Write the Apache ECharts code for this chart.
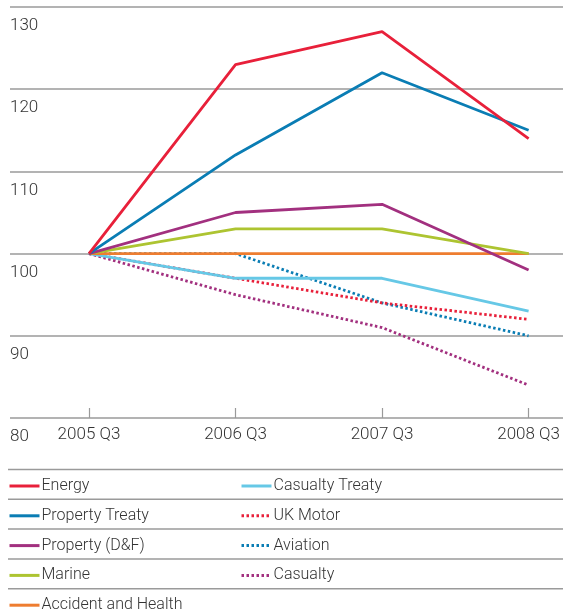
<!DOCTYPE html>
<html><head><meta charset="utf-8">
<script src="https://cdn.jsdelivr.net/npm/echarts@6/dist/echarts.min.js"></script>
<style>html,body{margin:0;padding:0;background:#fff}#c{width:563px;height:615px}</style>
</head><body><div id="c"></div>
<script>
const categories = ['2005 Q3', '2006 Q3', '2007 Q3', '2008 Q3'];
const yMin = 80, yMax = 130, yStep = 10;
const energy = [100, 123, 127, 114];
const propertyTreaty = [100, 112, 122, 115];
const propertyDF = [100, 105, 106, 98];
const marine = [100, 103, 103, 100];
const accidentHealth = [100, 100, 100, 100];
const casualtyTreaty = [100, 97, 97, 93];
const ukMotor = [100, 97, 94, 92];
const aviation = [100, 100, 94, 90];
const casualty = [100, 95, 91, 84];

const seriesDefs = [
  ['Energy', energy, '#e8203a', 'solid'],
  ['Property Treaty', propertyTreaty, '#0a7db4', 'solid'],
  ['Property (D&F)', propertyDF, '#a2307f', 'solid'],
  ['Marine', marine, '#adc431', 'solid'],
  ['Accident and Health', accidentHealth, '#ee7d30', 'solid'],
  ['Casualty Treaty', casualtyTreaty, '#66c8e6', 'solid'],
  ['UK Motor', ukMotor, '#e8203a', [2.5, 2.5]],
  ['Aviation', aviation, '#0a7db4', [2.5, 2.5]],
  ['Casualty', casualty, '#a2307f', [2.5, 2.5]]
];

const FONT = 'Roboto';
const TXT = '#333333';
const GRID = '#9a9a9a';

const chart = echarts.init(document.getElementById('c'), null, {renderer: 'canvas'});

const sepLines = [];
for (let i = 0; i < 5; i++) {
  const y = 469.5 + 29.8 * i;
  sepLines.push({type: 'line', shape: {x1: 8, y1: y, x2: 563, y2: y}, style: {stroke: GRID, lineWidth: 1.5}, silent: true});
}

const legendCommon = {
  orient: 'vertical', padding: 0, itemWidth: 30, itemHeight: 14, itemGap: 13.8,
  itemStyle: {opacity: 0},
  lineStyle: {width: 3},
  textStyle: {fontFamily: FONT, fontSize: 16, fontWeight: 300, color: TXT, padding: [0, 0, 0, -3]},
  top: 478
};

chart.setOption({
  animation: false,
  backgroundColor: '#fff',
  grid: [
    {left: 10, right: 0, top: 7, bottom: 197},
    {left: 89, right: 31, top: 7, bottom: 197}
  ],
  xAxis: [
    {gridIndex: 0, type: 'value', show: false, min: 0, max: 1},
    {gridIndex: 1, type: 'category', data: categories, boundaryGap: false,
     axisLine: {show: false},
     axisTick: {show: true, inside: true, length: 10, alignWithLabel: true, lineStyle: {color: GRID, width: 1.2}},
     axisLabel: {margin: 8, fontFamily: FONT, fontSize: 17, fontWeight: 300, color: TXT},
     splitLine: {show: false}}
  ],
  yAxis: [
    {gridIndex: 0, type: 'value', min: yMin, max: yMax, interval: yStep,
     axisLine: {show: false}, axisTick: {show: false},
     splitLine: {show: true, lineStyle: {color: GRID, width: 1.5}},
     axisLabel: {inside: true, margin: 0, verticalAlign: 'top', lineHeight: 38,
       fontFamily: FONT, fontSize: 17, fontWeight: 300, color: TXT}},
    {gridIndex: 1, type: 'value', min: yMin, max: yMax, interval: yStep, show: false,
     splitLine: {show: false}}
  ],
  legend: [
    Object.assign({}, legendCommon, {left: 8, data: seriesDefs.slice(0, 5).map(d => d[0])}),
    Object.assign({}, legendCommon, {left: 240, data: seriesDefs.slice(5).map(d => d[0])})
  ],
  graphic: sepLines,
  series: seriesDefs.map((d, i) => ({
    name: d[0], type: 'line', data: d[1], xAxisIndex: 1, yAxisIndex: 1,
    symbol: 'none', showSymbol: false, color: d[2], z: 10 - i,
    lineStyle: {color: d[2], width: 2.8, type: d[3]}
  }))
});
</script></body></html>
